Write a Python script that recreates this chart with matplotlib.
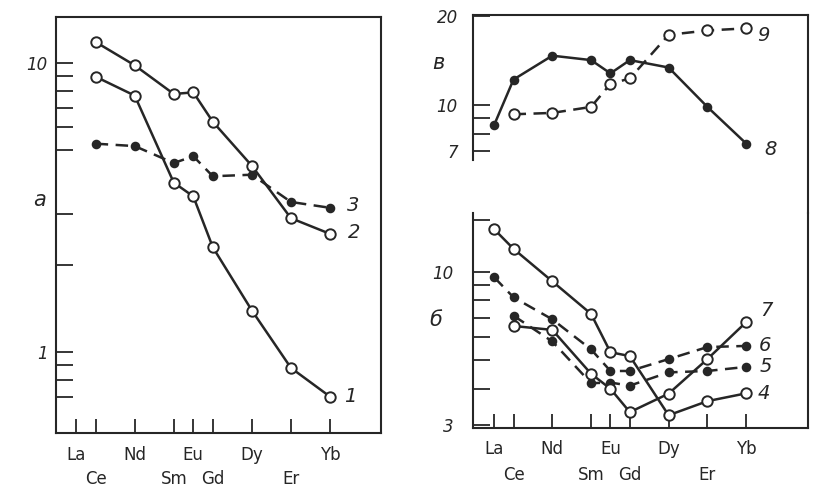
import matplotlib.pyplot as plt
from matplotlib.ticker import NullLocator

plt.rcParams['font.family'] = 'DejaVu Sans'

# REE и их порядковые номера (ось X)
elements = ['La', 'Ce', 'Nd', 'Sm', 'Eu', 'Gd', 'Dy', 'Er', 'Yb']
z_num = [57, 58, 60, 62, 63, 64, 66, 68, 70]
row_two = ['Ce', 'Sm', 'Gd', 'Er']

# панель а (данные начиная с Ce)
z_ce = z_num[1:]
s1 = [8.95, 7.7, 3.85, 3.45, 2.3, 1.39, 0.88, 0.70]
s2 = [11.8, 9.8, 7.8, 7.9, 6.25, 4.4, 2.9, 2.56]
s3 = [5.25, 5.15, 4.5, 4.75, 4.05, 4.1, 3.3, 3.15]

# панель в
s8 = [8.55, 12.2, 14.7, 14.2, 12.8, 14.2, 13.4, 9.85, 7.4]
s9 = [9.3, 9.4, 9.85, 11.8, 12.3, 17.3, 17.9, 18.2]

# панель б
s4 = [14.0, 12.0, 9.3, 7.2, 5.33, 5.17, 3.25, 3.63, 3.86]
s5 = [7.1, 5.8, 4.18, 4.2, 4.1, 4.55, 4.6, 4.75]
s6 = [9.6, 8.2, 6.9, 5.45, 4.6, 4.6, 5.05, 5.55, 5.6]
s7 = [6.55, 6.35, 4.5, 4.0, 3.33, 3.85, 5.05, 6.75]

INK = '#262626'
W, H = 813, 487


def rect(x0, y0, x1, y1):
    # пиксели картинки -> доли фигуры
    return [x0 / W, 1 - y1 / H, (x1 - x0) / W, (y1 - y0) / H]


def draw(ax, x, y, filled, dashed, label, off):
    ax.plot(x, y, color=INK, lw=1.8, ls=(0, (5, 3)) if dashed else '-',
            marker='o', ms=5.5 if filled else 7.5,
            mfc=INK if filled else 'white', mec=INK, mew=1.4,
            zorder=3 if filled else 4)
    ax.annotate(label, (x[-1], y[-1]), xytext=off, textcoords='offset pixels',
                fontsize=14, fontstyle='italic', color=INK, va='center', ha='left')


def style_y(ax, ticks, labels, pad):
    ax.set_yscale('log')
    ax.set_yticks(ticks, labels=labels)
    ax.yaxis.set_minor_locator(NullLocator())
    ax.tick_params(axis='y', direction='in', length=12, width=1.3,
                   labelsize=12, pad=pad, colors=INK)
    for t in ax.get_yticklabels():
        t.set_fontstyle('italic')


def style_x(ax):
    top = [(z, e) for z, e in zip(z_num, elements) if e not in row_two]
    low = [(z, e) for z, e in zip(z_num, elements) if e in row_two]
    ax.set_xticks([z for z, _ in top], labels=[e for _, e in top])
    ax.set_xticks([z for z, _ in low], labels=[e for _, e in low], minor=True)
    ax.tick_params(axis='x', which='both', direction='in', length=10, width=1.3,
                   labelsize=12, colors=INK)
    ax.tick_params(axis='x', which='major', pad=9)
    ax.tick_params(axis='x', which='minor', pad=27)


fig = plt.figure(figsize=(8.13, 4.87), dpi=100)

# ---- панель а ----
ax_a = fig.add_axes(rect(56, 17, 381, 433))
draw(ax_a, z_ce, s1, False, False, '1', (14, 0))
draw(ax_a, z_ce, s2, False, False, '2', (18, 1))
draw(ax_a, z_ce, s3, True, True, '3', (17, 2))
ax_a.set_xlim(55.97, 72.61)
ax_a.set_ylim(0.524, 14.4)
style_y(ax_a, [10, 9, 8, 7, 6, 5, 3, 2, 1, 0.9, 0.8, 0.7],
        ['10', '', '', '', '', '', '', '', '1', '', '', ''], 6)
style_x(ax_a)

# ---- панель в (верх справа) ----
ax_v = fig.add_axes(rect(473, 15, 808, 213))
draw(ax_v, z_num, s8, True, False, '8', (18, -6))
draw(ax_v, z_ce, s9, False, True, '9', (11, -7))
ax_v.set_xlim(55.91, 73.19)
ax_v.set_ylim(4.3, 20.2)
style_y(ax_v, [20, 10, 9, 8, 7], ['20', '10', '', '', '7'], 11)
ax_v.set_xticks([])
ax_v.spines['bottom'].set_visible(False)
ax_v.spines['left'].set_bounds(6.5, 20.2)

# ---- панель б (низ справа) ----
ax_b = fig.add_axes(rect(473, 213, 808, 428))
draw(ax_b, z_num, s4, False, False, '4', (11, 0))
draw(ax_b, z_ce, s5, True, True, '5', (13, 0))
draw(ax_b, z_num, s6, True, True, '6', (13, 0))
draw(ax_b, z_ce, s7, False, False, '7', (14, 12))
ax_b.set_xlim(55.91, 73.19)
ax_b.set_ylim(2.94, 15.9)
style_y(ax_b, [15, 10, 9, 8, 7, 6, 5, 4, 3],
        ['', '10', '', '', '', '', '', '', '3'], 14)
ax_b.spines['top'].set_visible(False)
style_x(ax_b)

for ax in (ax_a, ax_v, ax_b):
    for sp in ax.spines.values():
        sp.set_linewidth(1.5)
        sp.set_color(INK)
    ax.patch.set_alpha(0)

# буквы панелей
for txt, px, py in [('а', 40, 200), ('в', 438, 63), ('б', 436, 320)]:
    fig.text(px / W, 1 - py / H, txt, fontsize=15, fontstyle='italic',
             color=INK, ha='center', va='center')

fig.savefig('out.png', dpi=100)
